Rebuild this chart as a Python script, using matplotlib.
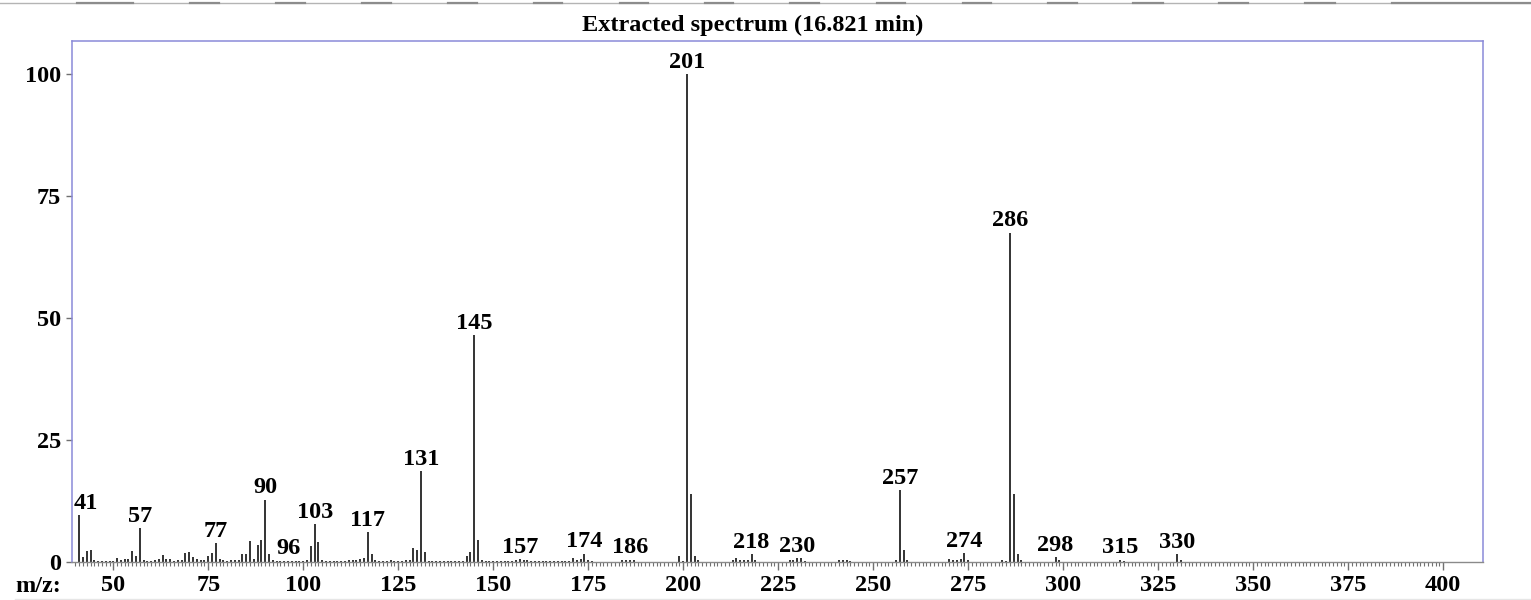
import matplotlib
matplotlib.use("Agg")
import matplotlib.pyplot as plt
from matplotlib.ticker import FixedLocator
from matplotlib.lines import Line2D

plt.rcParams['font.family'] = ['Liberation Serif', 'DejaVu Serif']
plt.rcParams['font.weight'] = 'bold'

# ---- data (m/z, relative intensity) ----
mz = [41, 42, 43, 44, 45, 46, 47, 48, 49, 50,
      51, 52, 53, 54, 55, 56, 57, 58, 59, 60,
      61, 62, 63, 64, 65, 66, 67, 68, 69, 70,
      71, 72, 73, 74, 75, 76, 77, 78, 79, 80,
      81, 82, 83, 84, 85, 86, 87, 88, 89, 90,
      91, 92, 93, 94, 95, 96, 97, 98, 99, 100,
      101, 102, 103, 104, 105, 106, 107, 108, 109, 110,
      111, 112, 113, 114, 115, 116, 117, 118, 119, 120,
      121, 122, 123, 124, 125, 126, 127, 128, 129, 130,
      131, 132, 133, 134, 135, 136, 137, 138, 139, 140,
      141, 142, 143, 144, 145, 146, 147, 148, 149, 150,
      151, 152, 153, 154, 155, 156, 157, 158, 159, 160,
      161, 162, 163, 164, 165, 166, 167, 168, 169, 170,
      171, 172, 173, 174, 175, 176, 184, 185, 186, 187,
      199, 200, 201, 202, 203, 204, 213, 214, 215, 216,
      217, 218, 219, 228, 229, 230, 231, 232, 241, 242,
      243, 244, 256, 257, 258, 259, 270, 271, 272, 273,
      274, 275, 284, 285, 286, 287, 288, 289, 298, 299,
      315, 316, 330, 331]
intensity = [9.6, 1.1, 2.3, 2.5, 0.5, 0.2, 0.2, 0.2, 0.2, 0.3,
             0.9, 0.5, 0.6, 0.6, 2.3, 1.2, 7.0, 0.5, 0.3, 0.2,
             0.4, 0.7, 1.4, 0.6, 0.6, 0.3, 0.4, 0.4, 1.8, 2.1,
             1.1, 0.6, 0.5, 0.5, 1.2, 1.9, 3.8, 0.6, 0.4, 0.3,
             0.4, 0.4, 0.5, 1.6, 1.6, 4.4, 0.6, 3.5, 4.6, 12.8,
             1.7, 0.4, 0.3, 0.3, 0.3, 0.3, 0.3, 0.3, 0.3, 0.3,
             0.5, 3.2, 7.7, 4.0, 0.5, 0.3, 0.3, 0.2, 0.2, 0.2,
             0.3, 0.5, 0.5, 0.5, 0.6, 0.9, 6.1, 1.7, 0.5, 0.2,
             0.2, 0.2, 0.4, 0.2, 0.2, 0.2, 0.4, 0.5, 2.8, 2.5,
             18.6, 2.1, 0.3, 0.3, 0.3, 0.3, 0.2, 0.2, 0.2, 0.3,
             0.3, 0.3, 1.2, 2.1, 46.5, 4.5, 0.5, 0.2, 0.2, 0.2,
             0.2, 0.2, 0.2, 0.3, 0.3, 0.4, 0.6, 0.5, 0.4, 0.3,
             0.3, 0.2, 0.2, 0.2, 0.2, 0.2, 0.2, 0.2, 0.2, 0.3,
             0.9, 0.5, 0.6, 1.7, 0.5, 0.2, 0.4, 0.5, 0.5, 0.4,
             1.2, 0.3, 100.0, 14.0, 1.2, 0.4, 0.4, 0.8, 0.5, 0.5,
             0.5, 1.6, 0.4, 0.4, 0.5, 0.8, 0.8, 0.3, 0.4, 0.4,
             0.4, 0.3, 0.5, 14.7, 2.5, 0.4, 0.6, 0.4, 0.5, 0.6,
             1.8, 0.5, 0.4, 0.3, 67.5, 14.0, 1.6, 0.4, 1.0, 0.4,
             0.5, 0.3, 1.6, 0.5]
labelled_peaks = [41, 57, 77, 90, 96, 103, 117, 131, 145, 157, 174, 186,
                  201, 218, 230, 257, 274, 286, 298, 315, 330]
y_ticks = [0, 25, 50, 75, 100]
x_ticks = [50, 75, 100, 125, 150, 175, 200, 225, 250, 275, 300, 325, 350, 375, 400]
title = "Extracted spectrum (16.821 min)"

W, H = 1531, 600
fig = plt.figure(figsize=(W / 100, H / 100), dpi=100)
ax = fig.add_axes([72 / W, 1 - 562 / H, (1483 - 72) / W, (562 - 41) / H])

ax.vlines(mz, 0, intensity, colors='#111111', linewidth=1.2)

ax.set_xlim(39.13, 410.5)
ax.set_ylim(0, 106.8)

fs = 17.5
lookup = dict(zip(mz, intensity))
for p in labelled_peaks:
    dx = 4.5 if p - ax.get_xlim()[0] < 3 else 0
    ax.annotate(str(p), xy=(p, lookup[p]), xytext=(dx, 4.5), textcoords='offset points',
                ha='center', va='baseline', fontsize=fs, fontweight='bold', color='black')

blue = '#8a8ad8'
for s in ('left', 'top', 'right'):
    ax.spines[s].set_color(blue)
    ax.spines[s].set_linewidth(1.1)
ax.spines['bottom'].set_color('#8a8a8a')
ax.spines['bottom'].set_linewidth(1.0)

ax.set_yticks(y_ticks)
ax.set_yticklabels([str(v) for v in y_ticks])
ax.set_xticks(x_ticks)
ax.set_xticklabels([str(v) for v in x_ticks])
ax.xaxis.set_minor_locator(FixedLocator(list(range(40, 401))))
ax.tick_params(axis='x', which='major', direction='out', length=6, width=1.0,
               color='#707070', pad=3.5, labelsize=fs)
ax.tick_params(axis='x', which='minor', direction='out', length=3, width=0.8,
               color='#707070')
ax.tick_params(axis='y', which='major', direction='out', length=4.5, width=1.0,
               color='#707070', pad=3.5, labelsize=fs)
for lab in ax.get_xticklabels() + ax.get_yticklabels():
    lab.set_fontweight('bold')

fig.text(753 / W, 1 - 31 / H, title, ha='center', va='baseline',
         fontsize=fs, fontweight='bold')
fig.text(15 / W, 1 - 592 / H, "m/z:", ha='left', va='baseline',
         fontsize=fs, fontweight='bold')

# thin decorative border lines at top and bottom (screenshot edges)
fig.add_artist(Line2D([0, 1], [1 - 3 / H, 1 - 3 / H], transform=fig.transFigure,
                      color='#b4b4b4', linewidth=1.0))
for x0, x1 in [(77, 133), (190, 219), (276, 305), (362, 391), (448, 477), (534, 562),
               (620, 648), (705, 733), (790, 819), (877, 905), (963, 991), (1048, 1077),
               (1133, 1163), (1219, 1248), (1305, 1335), (1392, 1531)]:
    fig.add_artist(Line2D([x0 / W, x1 / W], [1 - 3 / H, 1 - 3 / H], transform=fig.transFigure,
                          color='#8c8c8c', linewidth=1.6))
fig.add_artist(Line2D([15 / W, 1], [1 - 599 / H, 1 - 599 / H], transform=fig.transFigure,
                      color='#e6e6e6', linewidth=1.0))

fig.savefig('out.png', dpi=100)
